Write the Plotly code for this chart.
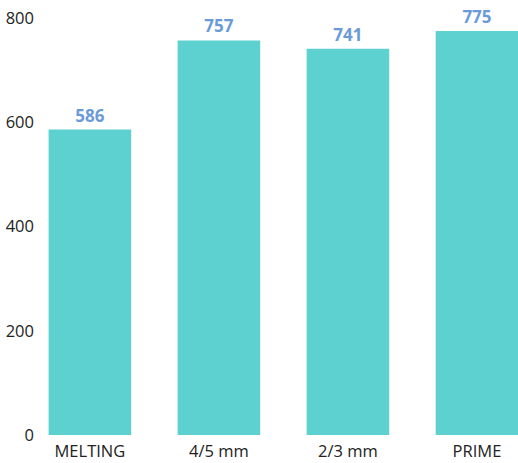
import plotly.graph_objects as go

categories = ["MELTING", "4/5 mm", "2/3 mm", "PRIME"]
values = [586, 757, 741, 775]
y_ticks = [0, 200, 400, 600, 800]

fig = go.Figure(go.Bar(
    x=list(range(len(categories))),
    y=values,
    width=0.64,
    marker=dict(color="#5dd1cf", line=dict(width=0)),
    text=[str(v) for v in values],
    textposition="outside",
    textfont=dict(family="Open Sans", size=17, color="#6a9bd8", weight="bold"),
    cliponaxis=False,
))

fig.update_layout(
    width=518, height=463,
    margin=dict(l=37, r=0, t=18, b=28),
    paper_bgcolor="white", plot_bgcolor="white",
    font=dict(family="Open Sans", size=16.5, color="#222222"),
    showlegend=False,
    bargap=0.36,
)
fig.update_xaxes(
    tickmode="array", tickvals=list(range(len(categories))), ticktext=categories,
    range=[-0.41, 3.318], showgrid=False, zeroline=False, showline=False, ticks="",
    ticklabelstandoff=4,
)
fig.update_yaxes(
    range=[0, 800], tickvals=y_ticks, showgrid=False, zeroline=False, showline=False,
    ticks="", ticklabelstandoff=2,
)
fig.write_html("out.html")
